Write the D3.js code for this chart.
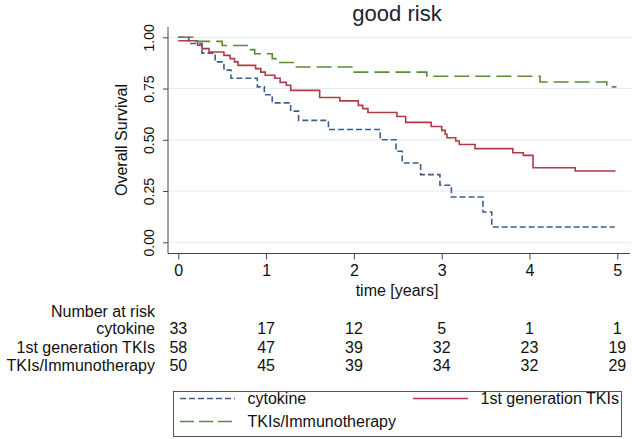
<!DOCTYPE html>
<html>
<head>
<meta charset="utf-8">
<script src="https://cdn.jsdelivr.net/npm/d3@7"></script>
<style>
    body { margin: 0; background: #fff; }
    svg text { font-family: "Liberation Sans", Arial, sans-serif; fill: #111; }
</style>
</head>
<body>
<div id="chart-container"></div>
<script>
// survival steps: time of drop and survival after it
const cytokineTime = [0, 0.12, 0.27, 0.42, 0.52, 0.60, 0.90, 0.98, 1.07, 1.28, 1.37, 1.71, 2.30, 2.48, 2.55, 2.76, 2.98, 3.11, 3.47, 3.57];
const cytokineSurv = [1, 0.97, 0.923, 0.88, 0.84, 0.80, 0.758, 0.72, 0.68, 0.64, 0.595, 0.55, 0.50, 0.444, 0.387, 0.33, 0.278, 0.221, 0.148, 0.075];
const firstGenTime = [0, 0.22, 0.27, 0.35, 0.52, 0.59, 0.64, 0.68, 0.88, 0.94, 0.99, 1.10, 1.16, 1.23, 1.28, 1.61, 1.84, 2.05, 2.10, 2.16, 2.49, 2.59, 2.88, 3.00, 3.04, 3.06, 3.16, 3.20, 3.38, 3.81, 3.93, 4.04, 4.52];
const firstGenSurv = [0.983, 0.962, 0.945, 0.928, 0.912, 0.896, 0.88, 0.863, 0.847, 0.83, 0.815, 0.80, 0.78, 0.766, 0.741, 0.706, 0.69, 0.668, 0.652, 0.633, 0.614, 0.585, 0.565, 0.546, 0.527, 0.51, 0.494, 0.477, 0.457, 0.437, 0.424, 0.364, 0.348];
const tkiIoTime = [0, 0.18, 0.50, 0.82, 0.87, 1.07, 1.11, 1.33, 1.99, 2.83, 4.12, 4.88];
const tkiIoSurv = [1, 0.98, 0.96, 0.94, 0.92, 0.896, 0.877, 0.855, 0.83, 0.81, 0.782, 0.758];
const endTimes = [4.97, 4.98, 4.99];

const groupNames = ["cytokine", "1st generation TKIs", "TKIs/Immunotherapy"];
const riskTimes = [0, 1, 2, 3, 4, 5];
const cytokineRisk = [33, 17, 12, 5, 1, 1];
const firstGenRisk = [58, 47, 39, 32, 23, 19];
const tkiIoRisk = [50, 45, 39, 34, 32, 29];
const yTicks = [0, 0.25, 0.5, 0.75, 1];

const colors = ["#3a5f8f", "#b03a48", "#5b8a34"];
const dashes = ["6,3", null, "15,6"];

const width = 632;
const height = 439;

const svg = d3.select("#chart-container")
    .append("svg")
    .attr("width", width)
    .attr("height", height);

const xScale = d3.scaleLinear().domain([0, 5]).range([178.3, 617.3]);
const yScale = d3.scaleLinear().domain([0, 1]).range([242.3, 37.3]);

function drawAxes() {
    // light gridlines
    svg.append("g")
        .selectAll("line")
        .data(yTicks)
        .enter()
        .append("line")
        .attr("x1", 169)
        .attr("x2", 631)
        .attr("y1", d => yScale(d))
        .attr("y2", d => yScale(d))
        .style("stroke", "#e4edf2")
        .style("stroke-width", 1);

    const yAxis = svg.append("g")
        .attr("transform", "translate(168,0)")
        .call(d3.axisLeft(yScale).tickValues(yTicks).tickSize(5).tickFormat(d3.format(".2f")));
    yAxis.select(".domain").attr("d", "M0,27V253.5");
    yAxis.selectAll(".tick text")
        .attr("x", 0)
        .attr("y", 0)
        .attr("dy", "0.36em")
        .attr("transform", "translate(-19,0) rotate(-90)")
        .style("text-anchor", "middle")
        .style("font-size", "14px");

    const xAxis = svg.append("g")
        .attr("transform", "translate(0,253.5)")
        .call(d3.axisBottom(xScale).tickValues(riskTimes).tickSize(6).tickFormat(d3.format("d")));
    xAxis.select(".domain").attr("d", "M168,0H630");
    xAxis.selectAll("text")
        .attr("y", 11)
        .style("font-size", "16px");

    svg.selectAll(".domain, .tick line").style("stroke", "#444");

    svg.append("text")
        .attr("transform", "rotate(-90)")
        .attr("x", -140)
        .attr("y", 127)
        .style("text-anchor", "middle")
        .style("font-size", "16px")
        .text("Overall Survival");

    svg.append("text")
        .attr("x", 397)
        .attr("y", 296)
        .style("text-anchor", "middle")
        .style("font-size", "16px")
        .text("time [years]");

    svg.append("text")
        .attr("x", 397)
        .attr("y", 21)
        .style("text-anchor", "middle")
        .style("font-size", "22px")
        .style("fill", "#1a2433")
        .text("good risk");
}

function drawCurves() {
    const groups = [
        [cytokineTime, cytokineSurv],
        [firstGenTime, firstGenSurv],
        [tkiIoTime, tkiIoSurv]
    ];
    const line = d3.line()
        .x(d => xScale(d[0]))
        .y(d => yScale(d[1]))
        .curve(d3.curveStepAfter);

    groups.forEach(([times, surv], i) => {
        const pts = times.map((t, j) => [t, surv[j]]);
        pts.push([endTimes[i], surv[surv.length - 1]]);
        svg.append("path")
            .datum(pts)
            .attr("d", line)
            .style("fill", "none")
            .style("stroke", colors[i])
            .style("stroke-width", 1.6)
            .style("stroke-dasharray", dashes[i]);
    });
}

function drawRiskTable() {
    const rows = [cytokineRisk, firstGenRisk, tkiIoRisk];
    const rowY = [334.3, 353, 371];

    svg.append("text")
        .attr("x", 155)
        .attr("y", 316.7)
        .style("text-anchor", "end")
        .style("font-size", "16px")
        .text("Number at risk");

    rows.forEach((row, i) => {
        svg.append("text")
            .attr("x", 155)
            .attr("y", rowY[i])
            .style("text-anchor", "end")
            .style("font-size", "16px")
            .text(groupNames[i]);
        svg.append("g")
            .selectAll("text")
            .data(row)
            .enter()
            .append("text")
            .attr("x", (d, j) => xScale(riskTimes[j]))
            .attr("y", rowY[i])
            .style("text-anchor", "middle")
            .style("font-size", "16px")
            .text(d => d);
    });
}

function drawLegend() {
    svg.append("rect")
        .attr("x", 173.5)
        .attr("y", 391.5)
        .attr("width", 448)
        .attr("height", 45)
        .style("fill", "#fff")
        .style("stroke", "#555")
        .style("stroke-width", 1);

    const items = [
        { x: 180, y: 398.5 },
        { x: 413, y: 398.5 },
        { x: 180, y: 421.5 }
    ];
    const legendDash = ["6,3", null, "14,5"];

    items.forEach((p, i) => {
        svg.append("line")
            .attr("x1", p.x)
            .attr("x2", p.x + 55)
            .attr("y1", p.y)
            .attr("y2", p.y)
            .style("stroke", colors[i])
            .style("stroke-width", 1.6)
            .style("stroke-dasharray", legendDash[i]);
        svg.append("text")
            .attr("x", p.x + 67.5)
            .attr("y", p.y)
            .attr("dy", "0.35em")
            .style("font-size", "16px")
            .text(groupNames[i]);
    });
}

drawAxes();
drawCurves();
drawRiskTable();
drawLegend();
</script>
</body>
</html>
